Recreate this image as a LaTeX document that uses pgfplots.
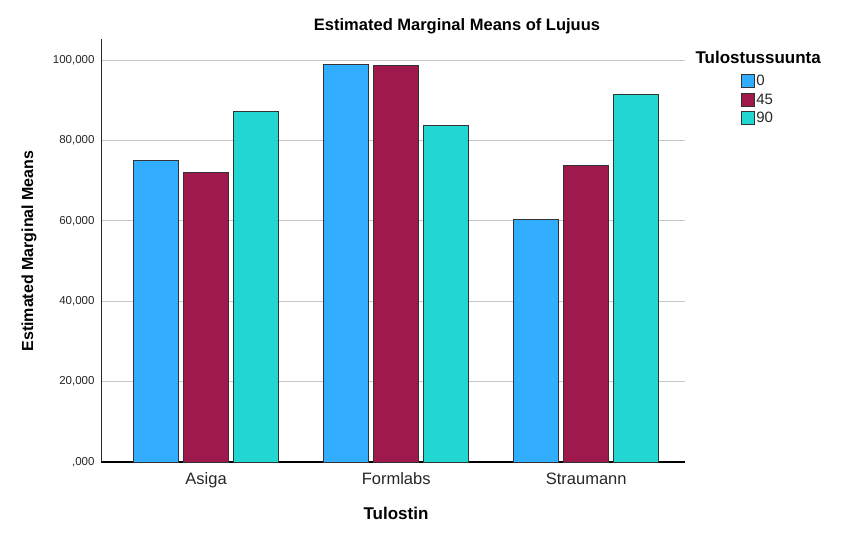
\documentclass[border=0pt]{standalone}
\usepackage{pgfplots}
\pgfplotsset{compat=1.18}
\usepackage{fontspec}
\setmainfont{Liberation Sans}
\definecolor{bzero}{RGB}{51,173,255}
\definecolor{bfortyfive}{RGB}{160,25,77}
\definecolor{bninety}{RGB}{34,214,210}
\definecolor{gridc}{RGB}{200,200,200}
\begin{document}
\begin{tikzpicture}[x=1pt,y=1pt]
\useasboundingbox (0,0) rectangle (844,539);
\begin{axis}[
  at={(101pt,77pt)}, anchor=south west,
  scale only axis, width=584pt, height=422.5pt,
  xmin=-0.553, xmax=2.52, ymin=0, ymax=105100,
  axis x line*=bottom, axis y line*=left,
  x axis line style={line width=2.6pt, black},
  y axis line style={line width=0.9pt, black!85},
  xtick={0,1,2}, xticklabels={Asiga,Formlabs,Straumann},
  ytick={0,20000,40000,60000,80000,100000},
  yticklabels={{,000},{20,000},{40,000},{60,000},{80,000},{100,000}},
  scaled y ticks=false,
  major tick length=0pt,
  ymajorgrids, grid style={gridc, line width=1pt},
  yticklabel style={font=\fontsize{11.5}{13}\selectfont, text=black!85, xshift=-3pt},
  xticklabel style={font=\fontsize{16.5}{19}\selectfont, text=black!85, yshift=-7pt},
  ybar, bar width=0.237,
  every axis plot/.append style={draw=black!80, line width=1pt},
  legend style={at={(rel axis cs:1.096,0.918)}, anchor=north west, draw=none, fill=none,
    font=\fontsize{15}{17}\selectfont, text=black!85, inner sep=0pt, row sep=4.5pt,
    nodes={inner sep=1pt}},
  legend cell align=left,
  legend image code/.code={\draw[#1, line width=1pt] (0pt,-6.5pt) rectangle (13pt,6.5pt);},
  clip=false,
]
\addplot[fill=bzero, bar shift=-0.263] coordinates {(0,75100) (1,99000) (2,60400)};
\addplot[fill=bfortyfive, bar shift=0] coordinates {(0,72100) (1,98600) (2,73800)};
\addplot[fill=bninety, bar shift=0.263] coordinates {(0,87100) (1,83800) (2,91500)};
\legend{0,45,90}
\end{axis}
\node[font=\bfseries\fontsize{16.5}{19}\selectfont] at (457,513) {Estimated Marginal Means of Lujuus};
\node[font=\bfseries\fontsize{17}{20}\selectfont, anchor=west] at (692,482) {Tulostussuunta};
\node[font=\bfseries\fontsize{16}{19}\selectfont, rotate=90] at (29,288) {Estimated Marginal Means};
\node[font=\bfseries\fontsize{17}{20}\selectfont] at (396,26) {Tulostin};
\end{tikzpicture}
\end{document}
